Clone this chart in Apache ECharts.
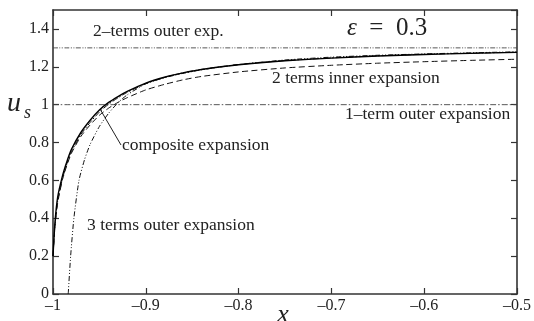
<!DOCTYPE html>
<html><head><meta charset="utf-8">
<script src="https://cdn.jsdelivr.net/npm/echarts@6/dist/echarts.min.js"></script>
<style>html,body{margin:0;padding:0;background:#fff}#c{width:534px;height:321px}</style>
</head><body><div id="c"></div>
<script>
// ---- data (x, u_s) ----
const xTicks = [-1, -0.9, -0.8, -0.7, -0.6, -0.5];
const yTicks = [0, 0.2, 0.4, 0.6, 0.8, 1, 1.2, 1.4];

// common x grid for the exact, composite and inner curves
const gridX = [-1, -0.998, -0.995, -0.99, -0.985, -0.98, -0.97, -0.96, -0.95, -0.94, -0.93, -0.92, -0.9, -0.88, -0.86, -0.84, -0.8, -0.75, -0.7, -0.65, -0.6, -0.55, -0.5];
const exactY     = [0.2, 0.37, 0.51, 0.62, 0.7, 0.765, 0.853, 0.918, 0.972, 1.012, 1.043, 1.07, 1.114, 1.145, 1.168, 1.186, 1.211, 1.232, 1.246, 1.257, 1.265, 1.271, 1.276];
const compositeY = [0.2, 0.355, 0.49, 0.605, 0.688, 0.752, 0.842, 0.906, 0.961, 1.003, 1.036, 1.065, 1.111, 1.144, 1.168, 1.186, 1.212, 1.233, 1.247, 1.258, 1.266, 1.272, 1.277];
const inner2Y    = [0.2, 0.35, 0.48, 0.6, 0.68, 0.745, 0.832, 0.893, 0.944, 0.982, 1.012, 1.037, 1.078, 1.107, 1.131, 1.149, 1.173, 1.194, 1.208, 1.219, 1.227, 1.234, 1.24];

const outer3X = [-0.9836, -0.981, -0.9775, -0.972, -0.966, -0.96, -0.95, -0.94, -0.93, -0.92, -0.9, -0.88, -0.86, -0.84, -0.8, -0.75, -0.7, -0.65, -0.6, -0.55, -0.5];
const outer3Y = [0, 0.2, 0.4, 0.6, 0.71, 0.79, 0.885, 0.955, 1.01, 1.052, 1.11, 1.142, 1.165, 1.184, 1.212, 1.236, 1.251, 1.261, 1.268, 1.274, 1.279];

const flatX = [-1, -0.5];
const outer1Y = [1.0, 1.0];
const outer2Y = [1.3, 1.3];

const labels = {
  outer2: '2\u2013terms outer exp.',
  inner2: '2 terms inner expansion',
  outer1: '1\u2013term outer expansion',
  composite: 'composite expansion',
  outer3: '3 terms outer expansion'
};

// ---- chart ----
const zip = (xs, ys) => xs.map((x, i) => [x, ys[i]]);
const serif = '"Liberation Serif", "DejaVu Serif", serif';
const ink = '#222';
const axisCol = '#333';

function fmtX(v) {
  const r = Math.round(v * 10) / 10;
  return r < 0 ? '\u2013' + String(-r) : String(r);
}

const chart = echarts.init(document.getElementById('c'), null, {renderer: 'canvas'});

const baseX = {
  type: 'value', min: xTicks[0], max: xTicks[xTicks.length - 1], interval: 0.1,
  axisLine: {onZero: false, lineStyle: {color: axisCol, width: 1.6}},
  axisTick: {inside: true, length: 6, lineStyle: {color: axisCol, width: 1.2}},
  splitLine: {show: false}
};
const baseY = {
  type: 'value', min: yTicks[0], max: 1.5, interval: 0.2,
  axisLine: {onZero: false, lineStyle: {color: axisCol, width: 1.6}},
  axisTick: {inside: true, length: 6, lineStyle: {color: axisCol, width: 1.2}},
  splitLine: {show: false}
};

function line(name, xs, ys, type, width, color) {
  return {
    name, type: 'line', data: zip(xs, ys), symbol: 'none', smooth: 0.2,
    lineStyle: {color, width, type}, animation: false, silent: true
  };
}

chart.setOption({
  animation: false,
  backgroundColor: '#fff',
  grid: {left: 53, right: 14, top: 10, bottom: 27},
  xAxis: [
    Object.assign({}, baseX, {position: 'bottom',
      axisLabel: {formatter: fmtX, fontFamily: serif, fontSize: 16, color: ink, margin: 4}}),
    Object.assign({}, baseX, {position: 'top', axisLabel: {show: false}})
  ],
  yAxis: [
    Object.assign({}, baseY, {position: 'left',
      axisLabel: {fontFamily: serif, fontSize: 16, color: ink, margin: 4, showMaxLabel: false}}),
    Object.assign({}, baseY, {position: 'right', axisLabel: {show: false}})
  ],
  series: [
    line('outer2', flatX, outer2Y, [5, 1.5, 1, 1.5, 1, 1.5], 0.9, '#444'),
    line('outer1', flatX, outer1Y, [6, 2, 1.5, 2], 0.9, '#444'),
    line('inner2', gridX, inner2Y, [6, 3.5], 1, '#111'),
    line('outer3', outer3X, outer3Y, [5, 2, 1, 2, 1, 2], 1, '#111'),
    line('composite', gridX, compositeY, [6, 2, 1.5, 2], 1, '#111'),
    line('exact', gridX, exactY, 'solid', 1.4, '#000')
  ],
  graphic: [
    {type: 'text', x: 93, y: 31, style: {text: labels.outer2, font: '17.5px ' + serif, fill: ink, align: 'left', verticalAlign: 'middle'}},
    {type: 'text', x: 347, y: 28, style: {text: '{e|\u03b5}\u2002=\u2002' + '0.3', font: '25px ' + serif, fill: ink, align: 'left', verticalAlign: 'middle',
      rich: {e: {font: 'italic 25px ' + serif, fill: ink}}}},
    {type: 'text', x: 272, y: 78, style: {text: labels.inner2, font: '17.5px ' + serif, fill: ink, align: 'left', verticalAlign: 'middle'}},
    {type: 'text', x: 345, y: 114, style: {text: labels.outer1, font: '17.5px ' + serif, fill: ink, align: 'left', verticalAlign: 'middle'}},
    {type: 'text', x: 122, y: 145, style: {text: labels.composite, font: '17.5px ' + serif, fill: ink, align: 'left', verticalAlign: 'middle'}},
    {type: 'text', x: 87, y: 225, style: {text: labels.outer3, font: '17.5px ' + serif, fill: ink, align: 'left', verticalAlign: 'middle'}},
    {type: 'line', shape: {x1: 100, y1: 109, x2: 121, y2: 145}, style: {stroke: ink, lineWidth: 1}},
    {type: 'text', x: 7, y: 104, style: {text: 'u', font: 'italic 28px ' + serif, fill: ink, align: 'left', verticalAlign: 'middle'}},
    {type: 'text', x: 24, y: 113, style: {text: 's', font: 'italic 18px ' + serif, fill: ink, align: 'left', verticalAlign: 'middle'}},
    {type: 'text', x: 283, y: 315, style: {text: 'x', font: 'italic 26px ' + serif, fill: ink, align: 'center', verticalAlign: 'middle'}}
  ]
});
</script>
</body></html>
